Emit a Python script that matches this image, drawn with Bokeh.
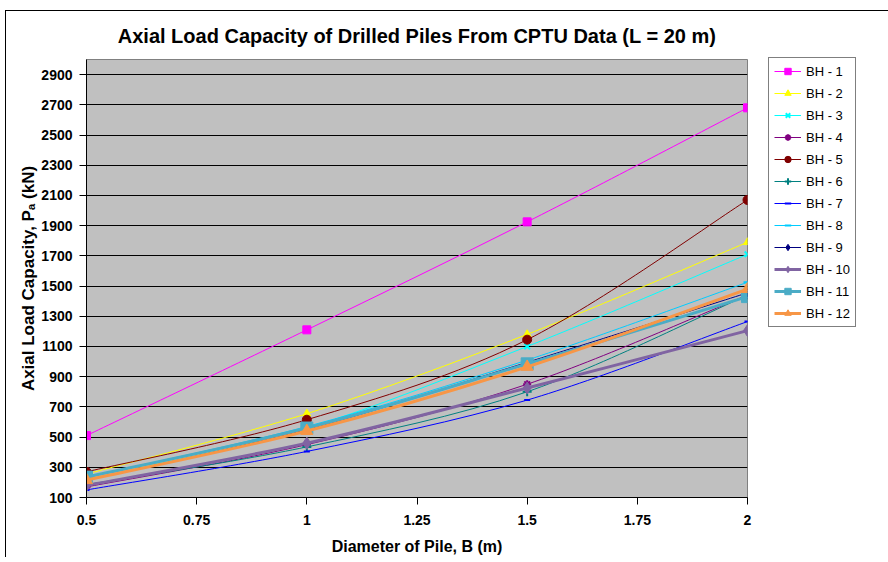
from bokeh.plotting import figure
from bokeh.models import ColumnDataSource, Legend, LegendItem, FixedTicker, Range1d
from bokeh.embed import file_html
from bokeh.resources import INLINE

# ---- data ----
diameters = [0.5, 1.0, 1.5, 2.0]
series_names = ["BH - 1", "BH - 2", "BH - 3", "BH - 4", "BH - 5", "BH - 6",
                "BH - 7", "BH - 8", "BH - 9", "BH - 10", "BH - 11", "BH - 12"]
bh1 = [510, 1210, 1925, 2680]
bh2 = [255, 655, 1180, 1790]
bh3 = [230, 560, 1100, 1710]
bh4 = [170, 450, 850, 1440]
bh5 = [270, 615, 1145, 2070]
bh6 = [185, 435, 800, 1440]
bh7 = [150, 405, 745, 1265]
bh8 = [235, 570, 1010, 1525]
bh9 = [215, 550, 995, 1455]
bh10 = [180, 460, 825, 1205]
bh11 = [235, 560, 985, 1430]
bh12 = [215, 540, 965, 1480]
x_ticks = [0.5, 0.75, 1, 1.25, 1.5, 1.75, 2]
y_ticks = [100, 300, 500, 700, 900, 1100, 1300, 1500, 1700, 1900, 2100, 2300, 2500, 2700, 2900]

values = [bh1, bh2, bh3, bh4, bh5, bh6, bh7, bh8, bh9, bh10, bh11, bh12]
colors = ["#FF00FF", "#FFFF00", "#00FFFF", "#800080", "#800000", "#008080",
          "#0000FF", "#00CCFF", "#000080", "#8064A2", "#4BACC6", "#F79646"]
markers = ["square", "triangle", "x", "asterisk", "circle", "cross",
           "dash", "dash", "diamond", "diamond", "square", "triangle"]
msizes = [8, 8, 8, 8, 9, 9, 6, 8, 8, 12, 12, 12]
lwidths = [1, 1, 1, 1, 1, 1, 1, 1, 1, 3, 3, 3]

FONT = "Liberation Sans"

p = figure(frame_width=661, frame_height=438, output_backend="svg",
           toolbar_location=None, x_range=Range1d(0.5, 2.0), y_range=Range1d(100, 3000),
           min_border_left=80, min_border_top=48, min_border_bottom=56,
           min_border_right=134)
p.styles = {"margin-left": "5px", "margin-top": "10px",
            "border-left": "1px solid black", "border-top": "1px solid black"}

p.title.text = "Axial Load Capacity of Drilled Piles From CPTU Data (L = 20 m)"
p.title.align = "center"
p.title.vertical_align = "top"
p.title.text_font = FONT
p.title.text_font_size = "20px"
p.title.text_font_style = "bold"
p.title.text_color = "black"
p.title.standoff = 21

p.background_fill_color = "#C0C0C0"
p.border_fill_color = "white"
p.outline_line_color = "#808080"

p.xgrid.visible = False
p.ygrid.grid_line_color = "black"
p.ygrid.grid_line_width = 1

p.xaxis.ticker = FixedTicker(ticks=x_ticks)
p.yaxis.ticker = FixedTicker(ticks=y_ticks)
p.xaxis.minor_tick_line_color = None
p.yaxis.minor_tick_line_color = None
for ax in (p.xaxis, p.yaxis):
    ax.axis_line_color = "black"
    ax.major_tick_line_color = "black"
    ax.major_tick_out = 7
    ax.major_tick_in = 0
    ax.major_label_text_font = FONT
    ax.major_label_text_font_size = "14px"
    ax.major_label_text_font_style = "bold"
    ax.major_label_text_color = "black"
    ax.axis_label_text_font = FONT
    ax.axis_label_text_font_style = "bold"
    ax.axis_label_text_color = "black"
p.xaxis.axis_label_text_font_size = "16px"
p.yaxis.axis_label_text_font_size = "17px"
p.xaxis.major_label_standoff = 10
p.yaxis.major_label_standoff = 7
p.xaxis.axis_label = "Diameter of Pile, B (m)"
p.yaxis.axis_label = "Axial Load Capacity, P\u2090 (kN)"
p.xaxis.axis_label_standoff = 10
p.yaxis.axis_label_standoff = 0

items = []
for name, vals, col, mk, ms, lw in zip(series_names, values, colors, markers, msizes, lwidths):
    n = len(vals)
    x0, y0, x1, y1, cx0, cy0, cx1, cy1 = [], [], [], [], [], [], [], []
    for i in range(n - 1):
        ia, ib = max(i - 1, 0), min(i + 2, n - 1)
        x0.append(diameters[i]); y0.append(vals[i])
        x1.append(diameters[i + 1]); y1.append(vals[i + 1])
        cx0.append(diameters[i] + (diameters[i + 1] - diameters[ia]) / 6)
        cy0.append(vals[i] + (vals[i + 1] - vals[ia]) / 6)
        cx1.append(diameters[i + 1] - (diameters[ib] - diameters[i]) / 6)
        cy1.append(vals[i + 1] - (vals[ib] - vals[i]) / 6)
    bsrc = ColumnDataSource(dict(x0=x0, y0=y0, x1=x1, y1=y1, cx0=cx0, cy0=cy0, cx1=cx1, cy1=cy1))
    br = p.bezier(x0="x0", y0="y0", x1="x1", y1="y1", cx0="cx0", cy0="cy0",
                  cx1="cx1", cy1="cy1", source=bsrc, line_color=col, line_width=lw)
    src = ColumnDataSource(dict(x=diameters, y=vals))
    lwm = 2 if mk in ("x", "asterisk", "cross", "dash") else 1
    sr = p.scatter("x", "y", source=src, marker=mk, size=ms, fill_color=col,
                   line_color=col, line_width=lwm)
    items.append(LegendItem(label=name, renderers=[br, sr]))

legend = Legend(items=items, location=(21, 170))
legend.label_text_font = FONT
legend.label_text_font_size = "13px"
legend.label_text_color = "black"
legend.glyph_width = 27
legend.glyph_height = 16
legend.label_height = 16
legend.spacing = 6
legend.padding = 5
legend.margin = 0
legend.label_standoff = 5
legend.border_line_color = "black"
legend.border_line_width = 1
legend.background_fill_color = "white"
legend.background_fill_alpha = 1
p.add_layout(legend, "right")

open("out.html", "w").write(file_html(p, INLINE))
